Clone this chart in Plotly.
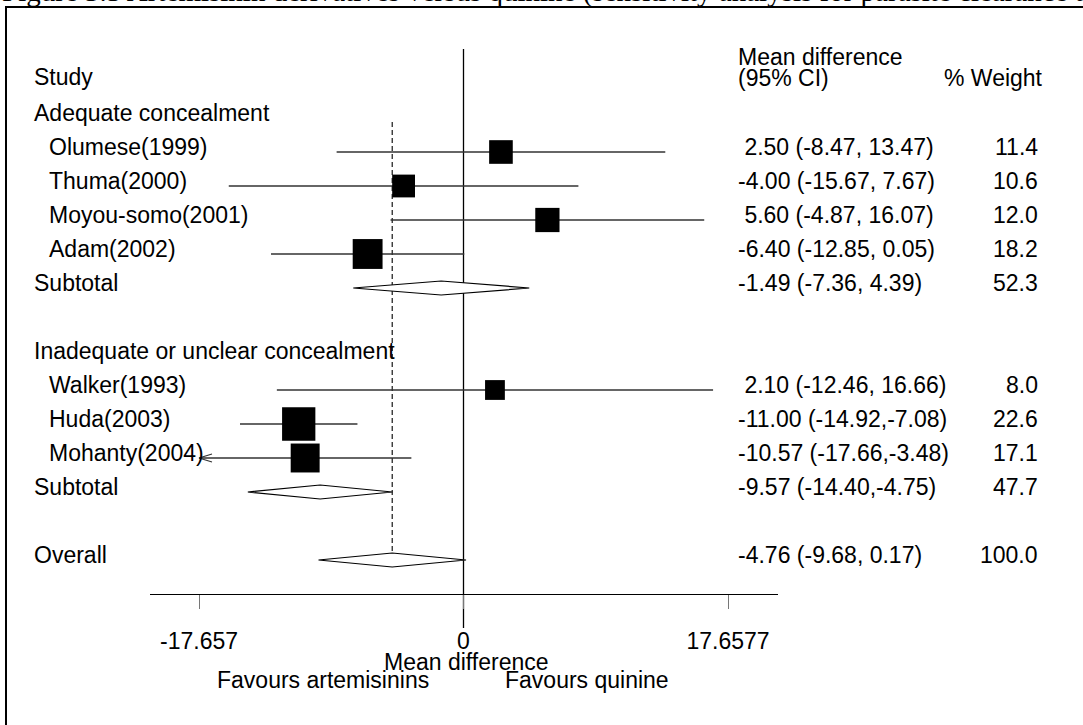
import numpy as np
import plotly.graph_objects as go

# ---------------- data ----------------
group_names = ["Adequate concealment", "Inadequate or unclear concealment"]
studies = ["Olumese(1999)", "Thuma(2000)", "Moyou-somo(2001)", "Adam(2002)",
           "Walker(1993)", "Huda(2003)", "Mohanty(2004)"]
study_group = [0, 0, 0, 0, 1, 1, 1]
md = [2.50, -4.00, 5.60, -6.40, 2.10, -11.00, -10.57]
ci_lo = [-8.47, -15.67, -4.87, -12.85, -12.46, -14.92, -17.66]
ci_hi = [13.47, 7.67, 16.07, 0.05, 16.66, -7.08, -3.48]
weight = [11.4, 10.6, 12.0, 18.2, 8.0, 22.6, 17.1]
ci_text = ["2.50 (-8.47, 13.47)", "-4.00 (-15.67, 7.67)", "5.60 (-4.87, 16.07)",
           "-6.40 (-12.85, 0.05)", "2.10 (-12.46, 16.66)", "-11.00 (-14.92,-7.08)",
           "-10.57 (-17.66,-3.48)"]

sub_md = [-1.49, -9.57]
sub_lo = [-7.36, -14.40]
sub_hi = [4.39, -4.75]
sub_weight = [52.3, 47.7]
sub_text = ["-1.49 (-7.36, 4.39)", "-9.57 (-14.40,-4.75)"]

overall_md = -4.76
overall_lo = -9.68
overall_hi = 0.17
overall_weight = 100.0
overall_text = "-4.76 (-9.68, 0.17)"

tick_vals = [-17.657, 0, 17.6577]
tick_text = ["-17.657", "0", "17.6577"]

title_text = "Figure 3.5 Artemisinin derivatives versus quinine (sensitivity analysis for parasite clearance time)"

# ---------------- layout constants ----------------
W, H = 1083, 725
PPU = 14.98          # pixels per unit of mean difference
ZERO_PX = 463.5      # pixel x of 0
ROW_PX = 34.0        # pixels per row
ROW0_PX = 152.0      # pixel y of first study row
AX_LO_PX, AX_HI_PX = 150, 778
AX_Y_PX = 594
FONT = "Liberation Sans, Arial, sans-serif"
FS = 23
TEXT_SHIFT = 5

def px_to_x(px):
    return (px - ZERO_PX) / PPU

def py_to_row(py):
    return (py - ROW0_PX) / ROW_PX

x_range = [px_to_x(0), px_to_x(W)]
y_range = [py_to_row(H), py_to_row(0)]

# ---------------- rows ----------------
k = -1
study_rows, group_rows, sub_rows = [], [], []
for g in range(len(group_names)):
    group_rows.append(k)
    k += 1
    for i, sg in enumerate(study_group):
        if sg == g:
            study_rows.append(k)
            k += 1
    sub_rows.append(k)
    k += 2
overall_row = k
axis_row = overall_row + 1

fig = go.Figure()

# zero line
fig.add_trace(go.Scatter(x=[0, 0], y=[py_to_row(49), py_to_row(628)], mode="lines",
                         line=dict(color="black", width=1.3), hoverinfo="skip", showlegend=False))
# overall dashed line
fig.add_trace(go.Scatter(x=[overall_md, overall_md], y=[py_to_row(122), overall_row + 0.2],
                         mode="lines", line=dict(color="black", width=1.1, dash="5px,3px"),
                         hoverinfo="skip", showlegend=False))

axis_min = tick_vals[0]
# CI lines
for i in range(len(studies)):
    y = study_rows[i]
    lo = max(ci_lo[i], axis_min)
    fig.add_trace(go.Scatter(x=[lo, ci_hi[i]], y=[y, y], mode="lines",
                             line=dict(color="#333333", width=1.3),
                             hoverinfo="skip", showlegend=False))
    if ci_lo[i] < axis_min:
        ax = 13 / PPU
        ay = 4 / ROW_PX
        fig.add_trace(go.Scatter(x=[lo + ax, lo, lo + ax], y=[y - ay, y, y + ay], mode="lines",
                                 line=dict(color="#333333", width=1.3),
                                 hoverinfo="skip", showlegend=False))

# squares
fig.add_trace(go.Scatter(x=md, y=study_rows, mode="markers",
                         marker=dict(symbol="square", color="#000000", opacity=1,
                                     size=[7 * np.sqrt(w) for w in weight],
                                     line=dict(width=0, color="#000000")),
                         opacity=1, hoverinfo="skip", showlegend=False))

# diamonds
half_h = 7 / ROW_PX
def diamond(c, lo, hi, y):
    fig.add_trace(go.Scatter(x=[lo, c, hi, c, lo], y=[y, y - half_h, y, y + half_h, y],
                             mode="lines", fill="toself", fillcolor="white",
                             line=dict(color="black", width=1.2),
                             hoverinfo="skip", showlegend=False))

for j in range(len(sub_md)):
    diamond(sub_md[j], sub_lo[j], sub_hi[j], sub_rows[j])
diamond(overall_md, overall_lo, overall_hi, overall_row)

# ---------------- text ----------------
ann = []
def txt(s, px, row, anchor="left", size=FS, shift=TEXT_SHIFT):
    ann.append(dict(text=s, x=px / W, xref="paper", y=row, yref="y", xanchor=anchor,
                    yanchor="middle", yshift=shift, showarrow=False,
                    font=dict(family=FONT, size=size, color="black")))

LBL_PX, STUDY_PX, EST_PX, WT_PX = 32, 47, 736, 1040
txt("Study", LBL_PX, py_to_row(81.5))
txt("Mean difference", EST_PX, py_to_row(61.5))
txt("(95% CI)", EST_PX, py_to_row(83))
txt("% Weight", WT_PX + 5, py_to_row(83), anchor="right")

for g in range(len(group_names)):
    txt(group_names[g], LBL_PX, group_rows[g])
for i in range(len(studies)):
    txt(studies[i], STUDY_PX, study_rows[i])
    lab = ci_text[i] if ci_text[i].startswith("-") else "\u00a0" + ci_text[i]
    txt(lab, EST_PX, study_rows[i])
    txt(f"{weight[i]:.1f}", WT_PX, study_rows[i], anchor="right")
for j in range(len(sub_md)):
    txt("Subtotal", LBL_PX, sub_rows[j])
    txt(sub_text[j], EST_PX, sub_rows[j])
    txt(f"{sub_weight[j]:.1f}", WT_PX, sub_rows[j], anchor="right")
txt("Overall", LBL_PX, overall_row)
txt(overall_text, EST_PX, overall_row)
txt(f"{overall_weight:.1f}", WT_PX, overall_row, anchor="right")

# axis labels
txt("Mean difference", ZERO_PX + 3, py_to_row(666.5), anchor="center")
txt("Favours artemisinins", 323, py_to_row(685), anchor="center")
txt("Favours quinine", 587, py_to_row(685), anchor="center")

# title (cut off at top)
ann.append(dict(text=title_text, x=0, xref="paper", y=1 - 10 / H, yref="paper",
                xanchor="left", yanchor="bottom", showarrow=False,
                font=dict(family="Liberation Serif, Times New Roman, serif", size=29,
                          color="black")))

# border box
shapes = [dict(type="rect", xref="paper", yref="paper",
               x0=6 / W, x1=1.05, y0=-0.05, y1=1 - 7 / H,
               line=dict(color="black", width=2), fillcolor="rgba(0,0,0,0)")]

fig.update_layout(
    width=W, height=H, margin=dict(l=0, r=0, t=0, b=0),
    paper_bgcolor="white", plot_bgcolor="rgba(0,0,0,0)",
    xaxis=dict(range=x_range, visible=False, fixedrange=True, domain=[0, 1]),
    xaxis2=dict(range=[px_to_x(AX_LO_PX), px_to_x(AX_HI_PX)],
                domain=[AX_LO_PX / W, AX_HI_PX / W], anchor="free",
                position=1 - AX_Y_PX / H, side="bottom",
                showline=True, linecolor="black", linewidth=1.3,
                showgrid=False, zeroline=False, ticks="outside", ticklen=14,
                tickcolor="#777", tickwidth=1.3, tickvals=tick_vals, ticktext=tick_text,
                ticklabelstandoff=12, fixedrange=True,
                tickfont=dict(family=FONT, size=FS, color="black")),
    yaxis=dict(range=y_range, visible=False, fixedrange=True, domain=[0, 1]),
    annotations=ann, shapes=shapes, showlegend=False,
)
# invisible trace to activate xaxis2
fig.add_trace(go.Scatter(x=[0], y=[axis_row], xaxis="x2", yaxis="y", mode="markers",
                         marker=dict(opacity=0), hoverinfo="skip", showlegend=False))

fig.write_html("out.html")
